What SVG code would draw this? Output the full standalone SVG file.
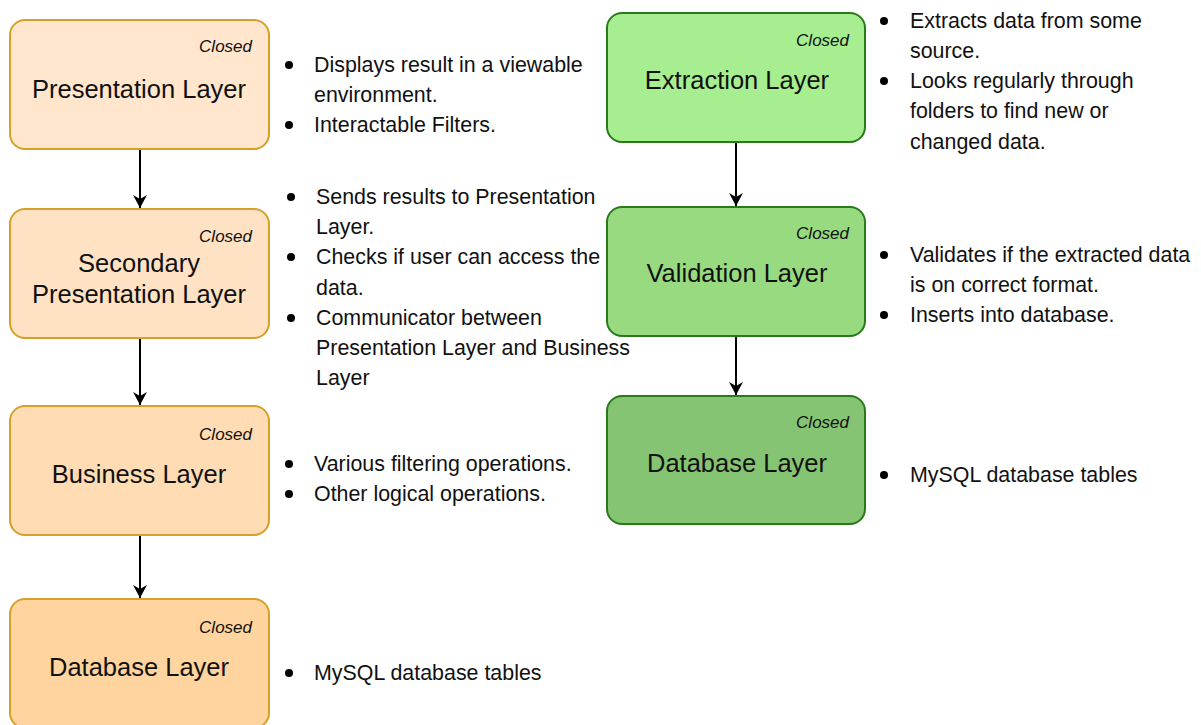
<svg xmlns="http://www.w3.org/2000/svg" width="1201" height="725" viewBox="0 0 1201 725">
  <defs>
    <marker id="arrow" markerWidth="16" markerHeight="16" refX="14" refY="8" orient="auto" markerUnits="userSpaceOnUse">
      <path d="M1,1 L14,8 L1,15 L5,8 Z" fill="#000"/>
    </marker>
    <style>
      .box-o { stroke: #d6a02a; stroke-width: 2; }
      .box-g { stroke: #2a7a1a; stroke-width: 2; }
      .title { font-family: "Liberation Sans", Arial, sans-serif; font-size: 25.5px; fill: #111; text-anchor: middle; }
      .tag { font-family: "Liberation Sans", Arial, sans-serif; font-size: 17px; font-style: italic; fill: #111; text-anchor: end; }
      .note { font-family: "Liberation Sans", Arial, sans-serif; font-size: 21.4px; fill: #111; }
      .dot { fill: #000; }
      .edge { stroke: #000; stroke-width: 2; fill: none; }
    </style>
  </defs>
  <rect width="1201" height="725" fill="#fff"/>

  <!-- connectors -->
  <g id="connectors">
    <line class="edge" x1="140" y1="149" x2="140" y2="208" marker-end="url(#arrow)"/>
    <line class="edge" x1="140" y1="338" x2="140" y2="405" marker-end="url(#arrow)"/>
    <line class="edge" x1="140" y1="535" x2="140" y2="598" marker-end="url(#arrow)"/>
    <line class="edge" x1="736" y1="142" x2="736" y2="206" marker-end="url(#arrow)"/>
    <line class="edge" x1="736" y1="336" x2="736" y2="395" marker-end="url(#arrow)"/>
  </g>

  <!-- left stack -->
  <g id="presentation-layer">
    <rect class="box-o" x="10" y="20" width="259" height="129" rx="15" fill="#ffe6cc"/>
    <text class="tag" x="252" y="52">Closed</text>
    <text class="title" x="139" y="98">Presentation Layer</text>
  </g>
  <g id="secondary-presentation-layer">
    <rect class="box-o" x="10" y="209" width="259" height="129" rx="15" fill="#ffe2c4"/>
    <text class="tag" x="252" y="242">Closed</text>
    <text class="title" x="139" y="272">Secondary</text>
    <text class="title" x="139" y="303">Presentation Layer</text>
  </g>
  <g id="business-layer">
    <rect class="box-o" x="10" y="406" width="259" height="129" rx="15" fill="#ffdcb3"/>
    <text class="tag" x="252" y="440">Closed</text>
    <text class="title" x="139" y="483">Business Layer</text>
  </g>
  <g id="database-layer-left">
    <rect class="box-o" x="10" y="599" width="259" height="129" rx="15" fill="#ffd49f"/>
    <text class="tag" x="252" y="633">Closed</text>
    <text class="title" x="139" y="676">Database Layer</text>
  </g>

  <!-- right stack -->
  <g id="extraction-layer">
    <rect class="box-g" x="607" y="13" width="258" height="129" rx="15" fill="#a6ee8f"/>
    <text class="tag" x="849" y="46">Closed</text>
    <text class="title" x="737" y="89">Extraction Layer</text>
  </g>
  <g id="validation-layer">
    <rect class="box-g" x="607" y="207" width="258" height="129" rx="15" fill="#97da80"/>
    <text class="tag" x="849" y="239">Closed</text>
    <text class="title" x="737" y="282">Validation Layer</text>
  </g>
  <g id="database-layer-right">
    <rect class="box-g" x="607" y="396" width="258" height="128" rx="15" fill="#85c472"/>
    <text class="tag" x="849" y="428">Closed</text>
    <text class="title" x="737" y="472">Database Layer</text>
  </g>

  <!-- notes beside the left stack -->
  <g id="notes-presentation">
    <circle class="dot" cx="289" cy="65" r="4"/>
    <circle class="dot" cx="289" cy="125" r="4"/>
    <text class="note" x="314" y="72">Displays result in a viewable</text>
    <text class="note" x="314" y="102">environment.</text>
    <text class="note" x="314" y="132">Interactable Filters.</text>
  </g>
  <g id="notes-secondary">
    <circle class="dot" cx="291" cy="197" r="4"/>
    <circle class="dot" cx="291" cy="257" r="4"/>
    <circle class="dot" cx="291" cy="318" r="4"/>
    <text class="note" x="316" y="204">Sends results to Presentation</text>
    <text class="note" x="316" y="234">Layer.</text>
    <text class="note" x="316" y="264">Checks if user can access the</text>
    <text class="note" x="316" y="295">data.</text>
    <text class="note" x="316" y="325">Communicator between</text>
    <text class="note" x="316" y="355">Presentation Layer and Business</text>
    <text class="note" x="316" y="385">Layer</text>
  </g>
  <g id="notes-business">
    <circle class="dot" cx="289" cy="464" r="4"/>
    <circle class="dot" cx="289" cy="494" r="4"/>
    <text class="note" x="314" y="471">Various filtering operations.</text>
    <text class="note" x="314" y="501">Other logical operations.</text>
  </g>
  <g id="notes-database-left">
    <circle class="dot" cx="289" cy="673" r="4"/>
    <text class="note" x="314" y="680">MySQL database tables</text>
  </g>

  <!-- notes beside the right stack -->
  <g id="notes-extraction">
    <circle class="dot" cx="884" cy="21" r="4"/>
    <circle class="dot" cx="884" cy="81" r="4"/>
    <text class="note" x="910" y="28">Extracts data from some</text>
    <text class="note" x="910" y="58">source.</text>
    <text class="note" x="910" y="88">Looks regularly through</text>
    <text class="note" x="910" y="118">folders to find new or</text>
    <text class="note" x="910" y="149">changed data.</text>
  </g>
  <g id="notes-validation">
    <circle class="dot" cx="884" cy="255" r="4"/>
    <circle class="dot" cx="884" cy="315" r="4"/>
    <text class="note" x="910" y="262">Validates if the extracted data</text>
    <text class="note" x="910" y="292">is on correct format.</text>
    <text class="note" x="910" y="322">Inserts into database.</text>
  </g>
  <g id="notes-database-right">
    <circle class="dot" cx="884" cy="475" r="4"/>
    <text class="note" x="910" y="482">MySQL database tables</text>
  </g>
</svg>
